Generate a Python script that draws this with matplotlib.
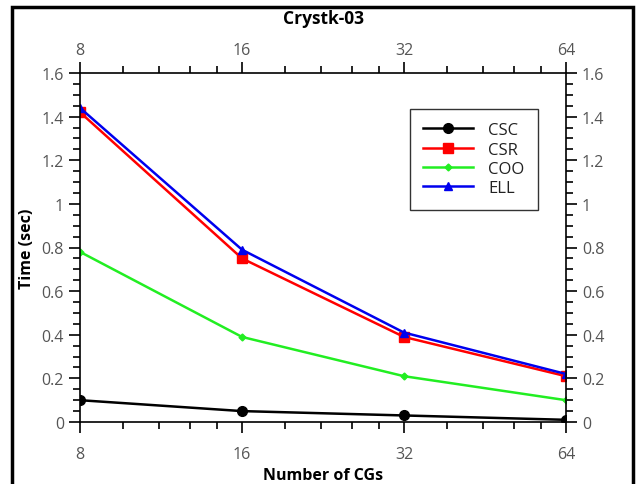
import numpy as np
import matplotlib
matplotlib.use('Agg')
import matplotlib.pyplot as plt
from matplotlib.ticker import FixedLocator, FuncFormatter
from matplotlib.patches import Rectangle

plt.rcParams['font.family'] = ['Open Sans', 'DejaVu Sans']

# datos
cgs = [8, 16, 32, 64]
csc = [0.10, 0.05, 0.03, 0.01]
csr = [1.42, 0.75, 0.39, 0.21]
coo = [0.78, 0.39, 0.21, 0.10]
ell = [1.44, 0.79, 0.41, 0.22]

fig = plt.figure(figsize=(6.39, 4.85), dpi=100)
ax = fig.add_axes([80/639, 1-423/485, 486/639, 349/485])

ax.plot(cgs, csc, color='black', lw=1.8, marker='o', ms=7, label='CSC')
ax.plot(cgs, csr, color='#ff0000', lw=1.8, marker='s', ms=7, label='CSR')
ax.plot(cgs, coo, color='#22ee22', lw=1.8, marker='D', ms=3.5, label='COO')
ax.plot(cgs, ell, color='#0000ee', lw=1.8, marker='^', ms=6, label='ELL')

ax.set_xscale('log', base=2)
ax.set_xlim(8, 64)
ax.set_ylim(0, 1.6)
ax.xaxis.set_major_locator(FixedLocator(cgs))
ax.xaxis.set_major_formatter(FuncFormatter(lambda v, p: '%d' % v))
minors = [b * (1 + k / 5) for b in cgs[:-1] for k in range(1, 5)]
ax.xaxis.set_minor_locator(FixedLocator(minors))
ax.xaxis.set_minor_formatter(FuncFormatter(lambda v, p: ''))
ax.yaxis.set_major_locator(FixedLocator(np.arange(0, 1.61, 0.2)))
ax.yaxis.set_major_formatter(FuncFormatter(lambda v, p: '%g' % round(v, 1)))
ax.yaxis.set_minor_locator(FixedLocator(np.arange(0, 1.61, 0.05)))

ax.tick_params(which='both', direction='out', top=True, right=True,
               labeltop=False, labelright=True, labelsize=11.5,
               labelcolor='#555555', width=1.2)
ax.tick_params(which='major', length=8)
ax.tick_params(which='minor', length=5)
ax.tick_params(axis='x', which='major', pad=9)
for s in ax.spines.values():
    s.set_linewidth(1.2)

# eje superior con las mismas marcas
top = ax.secondary_xaxis('top')
top.xaxis.set_major_locator(FixedLocator(cgs))
top.xaxis.set_major_formatter(FuncFormatter(lambda v, p: '%d' % v))
top.xaxis.set_minor_locator(FixedLocator([]))
top.tick_params(which='major', length=0, pad=11, labelsize=11.5,
                labelcolor='#555555')
top.spines['top'].set_visible(False)

ax.set_title('Crystk-03', fontsize=12.5, fontweight='bold', pad=36)
ax.set_xlabel('Number of CGs', fontsize=11.5, fontweight='bold', labelpad=4)
ax.set_ylabel('Time (sec)', fontsize=11.5, fontweight='bold', labelpad=5)

leg = ax.legend(loc='upper right', bbox_to_anchor=(0.942, 0.897),
                borderaxespad=0, fontsize=12, frameon=True, fancybox=False,
                edgecolor='black', handlelength=3.0, borderpad=0.8,
                labelspacing=0.2, handletextpad=0.9)
leg.get_frame().set_linewidth(1.0)
for t in leg.get_texts():
    t.set_color('#222222')

# marco de la figura
fig.patches.append(Rectangle((12/639, -0.1), 621/639, 1.1 - 8/485,
                             transform=fig.transFigure, fill=False,
                             edgecolor='black', lw=2.5))

fig.savefig('out.png', dpi=100)
